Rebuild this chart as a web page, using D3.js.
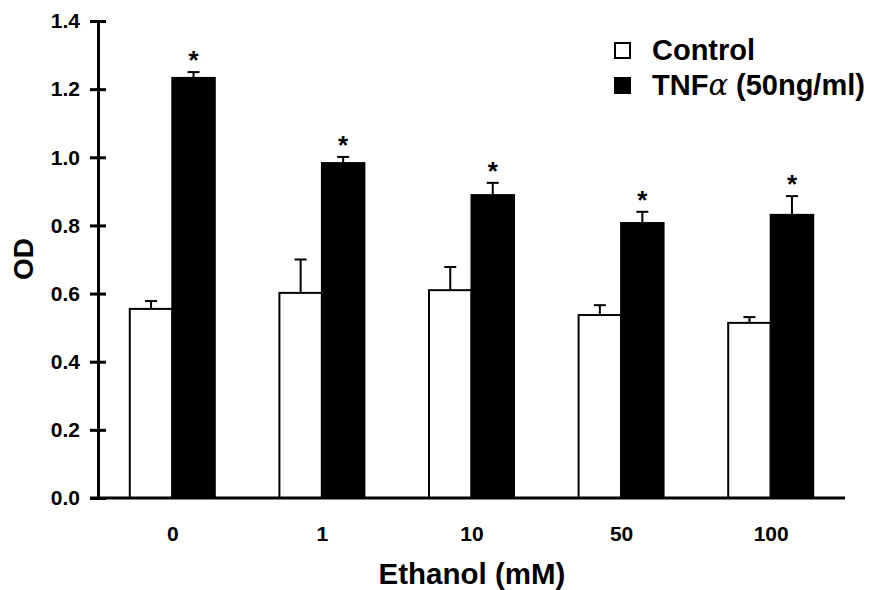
<!DOCTYPE html>
<html>
<head>
<meta charset="utf-8">
<script src="https://cdn.jsdelivr.net/npm/d3@7"></script>
<style>
  body { margin: 0; background: #fff; }
  text { font-family: "Liberation Sans", Arial, sans-serif; font-weight: bold; fill: #000; }
</style>
</head>
<body>
<div id="chart"></div>
<script>
// data
var categories = ["0", "1", "10", "50", "100"];
var control    = [0.555, 0.602, 0.610, 0.537, 0.514];
var controlErr = [0.023, 0.098, 0.068, 0.029, 0.017];
var tnf        = [1.233, 0.983, 0.889, 0.807, 0.831];
var tnfErr     = [0.017, 0.018, 0.036, 0.033, 0.055];
var yTicks     = [0, 0.2, 0.4, 0.6, 0.8, 1.0, 1.2, 1.4];
// legend labels split so the alpha can use a math-like face
var seriesNames = [["Control", "", ""], ["TNF", "\u03b1", " (50ng/ml)"]];

var width = 876, height = 590;

var svg = d3.select("#chart")
  .append("svg")
    .attr("width", width)
    .attr("height", height);

// scales
var y = d3.scaleLinear().domain([0, 1.4]).range([498, 21]);
var x = d3.scaleBand().domain(categories).range([98, 846]);
var xSub = d3.scaleBand().domain(["control", "tnf"]).range([-43, 42]);

// rows for bars
var rows = [];
categories.forEach(function(c, i) {
  rows.push({cat: c, key: "control", v: control[i], e: controlErr[i]});
  rows.push({cat: c, key: "tnf", v: tnf[i], e: tnfErr[i]});
});
function cx(d) { return x(d.cat) + x.bandwidth() / 2; }

// bars
svg.append("g").selectAll("rect")
  .data(rows)
  .enter().append("rect")
    .attr("x", function(d) { return cx(d) + xSub(d.key); })
    .attr("y", function(d) { return y(d.v); })
    .attr("width", xSub.bandwidth())
    .attr("height", function(d) { return y(0) - y(d.v); })
    .attr("fill", function(d) { return d.key == "tnf" ? "#000" : "#fff"; })
    .attr("stroke", "#000")
    .attr("stroke-width", 2);

// error bars (upper only)
var err = svg.append("g").selectAll("g")
  .data(rows)
  .enter().append("g")
    .attr("stroke", "#000")
    .attr("stroke-width", 2);
err.append("line")
  .attr("x1", function(d) { return cx(d) + xSub(d.key) + xSub.bandwidth() / 2; })
  .attr("x2", function(d) { return cx(d) + xSub(d.key) + xSub.bandwidth() / 2; })
  .attr("y1", function(d) { return y(d.v); })
  .attr("y2", function(d) { return y(d.v + d.e); });
err.append("line")
  .attr("x1", function(d) { return cx(d) + xSub(d.key) + xSub.bandwidth() / 2 - 6; })
  .attr("x2", function(d) { return cx(d) + xSub(d.key) + xSub.bandwidth() / 2 + 6; })
  .attr("y1", function(d) { return y(d.v + d.e); })
  .attr("y2", function(d) { return y(d.v + d.e); });

// significance stars on TNF bars
svg.append("g").selectAll("text")
  .data(rows.filter(function(d) { return d.key == "tnf"; }))
  .enter().append("text")
    .attr("x", function(d) { return cx(d) + xSub(d.key) + xSub.bandwidth() / 2; })
    .attr("y", function(d) { return y(d.v + d.e) - 3; })
    .attr("text-anchor", "middle")
    .style("font-size", "26px")
    .text("*");

// y axis, ticks cross the line
var yAxis = svg.append("g")
  .attr("transform", "translate(98,0)")
  .call(d3.axisLeft(y).tickValues(yTicks).tickFormat(d3.format(".1f"))
    .tickSize(8).tickSizeOuter(0).tickPadding(10));
yAxis.select(".domain").attr("stroke-width", 3);
yAxis.selectAll(".tick line").attr("x1", -8).attr("x2", 8).attr("stroke-width", 3);
yAxis.selectAll(".tick text")
  .style("font-size", "21px")
  .style("font-family", "'Liberation Sans', Arial, sans-serif")
  .style("font-weight", "bold");

// x axis line
svg.append("line")
  .attr("x1", 90).attr("x2", 845)
  .attr("y1", y(0)).attr("y2", y(0))
  .attr("stroke", "#000")
  .attr("stroke-width", 3);

// x labels
svg.append("g").selectAll("text")
  .data(categories)
  .enter().append("text")
    .attr("x", function(d) { return x(d) + x.bandwidth() / 2; })
    .attr("y", 541)
    .attr("text-anchor", "middle")
    .style("font-size", "21px")
    .text(function(d) { return d; });

// axis titles
svg.append("text")
  .attr("x", 472)
  .attr("y", 584)
  .attr("text-anchor", "middle")
  .style("font-size", "29.5px")
  .text("Ethanol (mM)");

svg.append("text")
  .attr("transform", "translate(33,259) rotate(-90)")
  .attr("text-anchor", "middle")
  .style("font-size", "28px")
  .text("OD");

// legend
var legend = svg.append("g").selectAll("g")
  .data(seriesNames)
  .enter().append("g")
    .attr("transform", function(d, i) { return "translate(614," + (42 + i * 35) + ")"; });
legend.append("rect")
  .attr("x", 1).attr("y", 1)
  .attr("width", 15).attr("height", 15)
  .attr("fill", function(d, i) { return i == 1 ? "#000" : "#fff"; })
  .attr("stroke", "#000")
  .attr("stroke-width", 2);
var lt = legend.append("text")
  .attr("x", 38)
  .attr("y", 18)
  .style("font-size", "29px");
lt.append("tspan").text(function(d) { return d[0]; });
lt.append("tspan")
  .style("font-family", "'DejaVu Serif', serif")
  .style("font-style", "italic")
  .style("font-weight", "normal")
  .text(function(d) { return d[1]; });
lt.append("tspan").text(function(d) { return d[2]; });
</script>
</body>
</html>
